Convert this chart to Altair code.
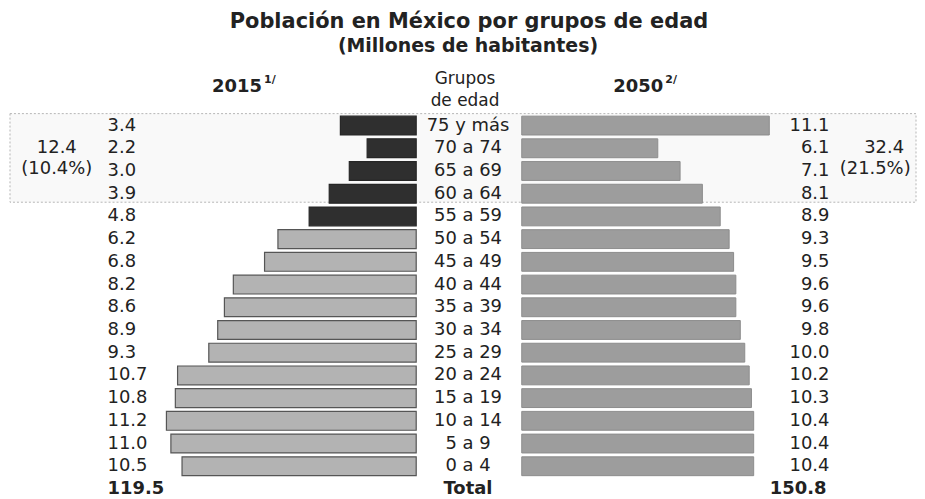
import altair as alt
import pandas as pd

# ---------------- data ----------------
ages = ["75 y más", "70 a 74", "65 a 69", "60 a 64", "55 a 59", "50 a 54",
        "45 a 49", "40 a 44", "35 a 39", "30 a 34", "25 a 29", "20 a 24",
        "15 a 19", "10 a 14", "5 a 9", "0 a 4"]
pop_2015 = [3.4, 2.2, 3.0, 3.9, 4.8, 6.2, 6.8, 8.2, 8.6, 8.9, 9.3, 10.7,
            10.8, 11.2, 11.0, 10.5]
pop_2050 = [11.1, 6.1, 7.1, 8.1, 8.9, 9.3, 9.5, 9.6, 9.6, 9.8, 10.0, 10.2,
            10.3, 10.4, 10.4, 10.4]
total_2015 = 119.5
total_2050 = 150.8
mayores = [12.4, 32.4]          # 60 años y más (2015, 2050)
mayores_pct = [10.4, 21.5]      # % del total

# ---------------- layout constants ----------------
W, H = 909, 483
PX_PER_UNIT = 22.4
CENTER = 463
GAP = 53 / PX_PER_UNIT
FONT = "DejaVu Sans"
TXT = "#222222"
FS = 18

rows = ages + ["Total"]
df = pd.DataFrame({"edad": ages, "p2015": pop_2015, "p2050": pop_2050,
                   "orden": list(range(len(ages)))})
lab = pd.DataFrame({"edad": rows,
                    "p2015": pop_2015 + [total_2015],
                    "p2050": pop_2050 + [total_2050],
                    "es_total": [False] * len(ages) + [True]})

yenc = alt.Y("edad:N", axis=None,
             scale=alt.Scale(domain=rows, range=[105.6, 493.4],
                             paddingInner=0.17, paddingOuter=0.085))
xscale = alt.Scale(domain=[-CENTER / PX_PER_UNIT, (W - CENTER) / PX_PER_UNIT],
                   nice=False, zero=False)

# frame around 60+ groups
box = alt.Chart(pd.DataFrame({"k": [1]})).mark_rect(
    fill="#f9f9f9", stroke="#b5b5b5", strokeDash=[2, 2], strokeWidth=1
).encode(x=alt.value(2), x2=alt.value(912), y=alt.value(105), y2=alt.value(194))

bars_l = alt.Chart(df).transform_calculate(
    x1=f"-(datum.p2015 + {GAP})", x2=f"-{GAP}"
).mark_bar(strokeWidth=1.2).encode(
    x=alt.X("x1:Q", scale=xscale, axis=None),
    x2="x2:Q",
    y=yenc,
    fill=alt.condition("datum.orden < 5", alt.value("#2f2f2f"), alt.value("#b3b3b3")),
    stroke=alt.condition("datum.orden < 5", alt.value("#262626"), alt.value("#555555")),
)

bars_r = alt.Chart(df).transform_calculate(
    x1=f"{GAP}", x2=f"datum.p2050 + {GAP}"
).mark_bar(fill="#9d9d9d", stroke="#8c8c8c", strokeWidth=1).encode(
    x=alt.X("x1:Q", scale=xscale, axis=None),
    x2="x2:Q",
    y=yenc,
)


def row_text(field, x, align, total, fmt=None):
    w = "bold" if total else "normal"
    filt = "datum.es_total" if total else "!datum.es_total"
    txt = alt.Text(f"{field}:Q", format=fmt) if fmt else alt.Text(f"{field}:N")
    return alt.Chart(lab).transform_filter(filt).mark_text(
        font=FONT, fontSize=FS, fontWeight=w, align=align,
        baseline="middle", color=TXT
    ).encode(x=alt.value(x), y=yenc, text=txt)


texts = [
    row_text("p2015", 100, "left", False, ".1f"),
    row_text("p2015", 100, "left", True, ".1f"),
    row_text("p2050", 825, "right", False, ".1f"),
    row_text("p2050", 822, "right", True, ".1f"),
    row_text("edad", 462, "center", False),
    row_text("edad", 462, "center", True),
]


def label(text, x, y, size, weight="bold", align="center"):
    return alt.Chart(pd.DataFrame({"t": [text]})).mark_text(
        font=FONT, fontSize=size, fontWeight=weight, align=align,
        baseline="middle", color=TXT
    ).encode(x=alt.value(x), y=alt.value(y), text="t:N")


heads = [
    label("Población en México por grupos de edad", 463, 13, 21),
    label("(Millones de habitantes)", 462, 37, 19),
    label("Grupos", 459, 70, 17, "normal"),
    label("de edad", 459, 92, 17, "normal"),
    label("2015", 230, 78, 18),
    label("1/", 263, 71, 11),
    label("2050", 633, 78, 18),
    label("2/", 666, 71, 11),
    label(f"{mayores[0]:.1f}", 49, 140, FS, "normal"),
    label(f"({mayores_pct[0]:.1f}%)", 49, 161, FS, "normal"),
    label(f"{mayores[1]:.1f}", 880, 140, FS, "normal"),
    label(f"({mayores_pct[1]:.1f}%)", 871, 161, FS, "normal"),
]

chart = alt.layer(box, bars_l, bars_r, *texts, *heads).properties(
    width=W, height=H, padding=0, background="white"
).configure_view(stroke=None)

chart.save("out.html", embed_options={"renderer": "svg", "actions": False})
